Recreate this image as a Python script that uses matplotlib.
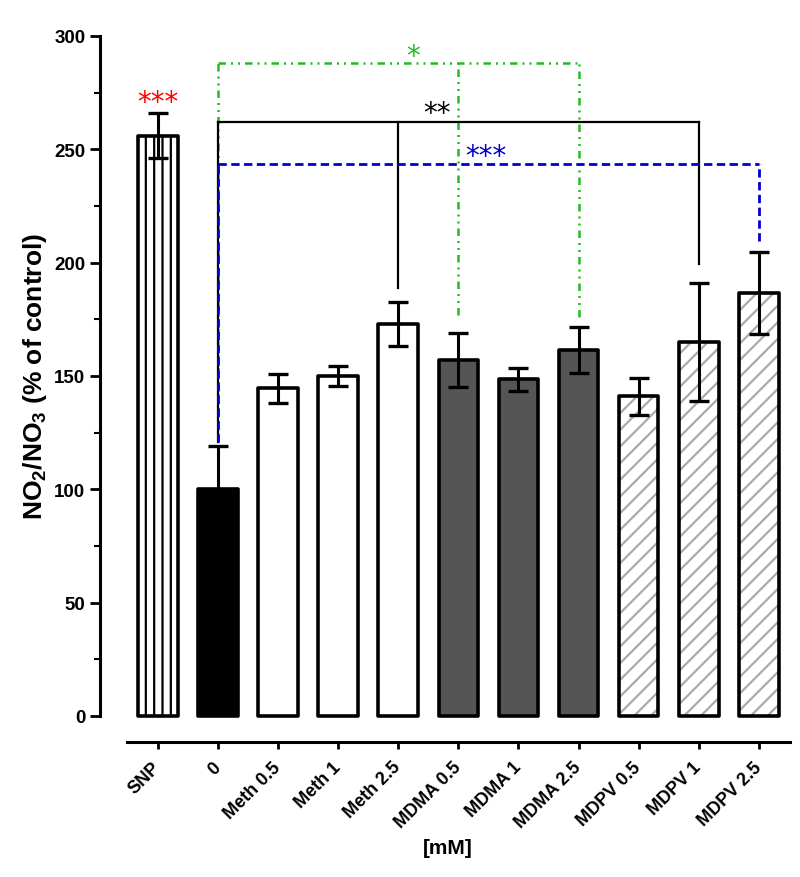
#!/usr/bin/env python3
import numpy as np
import matplotlib.pyplot as plt

plt.rcParams["font.family"] = ["Liberation Sans", "DejaVu Sans"]
plt.rcParams["mathtext.fontset"] = "custom"
plt.rcParams["mathtext.rm"] = "Liberation Sans"
plt.rcParams["mathtext.bf"] = "Liberation Sans:bold"
plt.rcParams["hatch.linewidth"] = 1.6

labels = ["SNP", "0", "Meth 0.5", "Meth 1", "Meth 2.5", "MDMA 0.5",
          "MDMA 1", "MDMA 2.5", "MDPV 0.5", "MDPV 1", "MDPV 2.5"]
means = [256, 100, 144.5, 150, 173, 157, 148.5, 161.5, 141, 165, 186.5]
errs = [10, 19, 6.5, 4.5, 9.7, 12, 5, 10, 8, 26, 18]
faces = ["white", "black", "white", "white", "white", "#555555", "#555555",
         "#555555", "white", "white", "white"]
hatches = ["||", None, None, None, None, None, None, None, "//", "//", "//"]
hatch_cols = ["black", "black", "black", "black", "black", "black", "black",
              "black", "#aaaaaa", "#aaaaaa", "#aaaaaa"]

# significance brackets from the "0" bar:
# (y of line, target bars, bottoms of drops, colour, style, width, stars, star x, star baseline)
brackets = [
    (288, [5, 7], [177, 176], "#22bb22", (0, (3, 2, 0.8, 2, 0.8, 2)), 1.8,
     "*", 4.24, 287.5),
    (262, [4, 9], [189, 199.5], "black", "-", 1.6, "**", 4.64, 262.4),
    (243.5, [10], [209.5], "#0000cc", (0, (3, 1.6)), 2.0, "***", 5.46, 243.4),
]
red_stars = ("***", 0, 267.2)
star_font = "DejaVu Sans"

fig = plt.figure(figsize=(8, 8.78), dpi=100)
ax = fig.add_axes([0.125, 0.1834, 0.8625, 0.7745])
x = np.arange(len(labels))

for i in range(len(labels)):
    ax.bar(x[i], means[i], width=0.66, color=faces[i], edgecolor=hatch_cols[i],
           hatch=hatches[i], linewidth=0, zorder=2)
    ax.bar(x[i], means[i], width=0.66, color="none", edgecolor="black",
           linewidth=2.6, zorder=3, clip_on=False, joinstyle="round")
ax.errorbar(x, means, yerr=errs, fmt="none", ecolor="black", elinewidth=2.2,
            capsize=7, capthick=2.4, zorder=4)

for ytop, targets, bottoms, col, ls, lw, txt, tx, ty in brackets:
    ax.plot([x[1], x[1]], [121, ytop], color=col, linestyle=ls, lw=lw, zorder=5)
    ax.plot([x[1], x[targets[-1]]], [ytop, ytop], color=col, linestyle=ls,
            lw=lw, zorder=5)
    for t, b in zip(targets, bottoms):
        ax.plot([x[t], x[t]], [b, ytop], color=col, linestyle=ls, lw=lw,
                zorder=5)
    ax.text(tx, ty, txt, color=col, fontsize=20, family=star_font,
            ha="center", va="baseline", zorder=6)

ax.text(x[red_stars[1]], red_stars[2], red_stars[0], color="red", fontsize=20,
        family=star_font, ha="center", va="baseline")

ax.set_xlim(-0.965, 10.52)
ax.set_ylim(0, 300)

ax.spines["top"].set_visible(False)
ax.spines["right"].set_visible(False)
ax.spines["left"].set_linewidth(2.2)
ax.spines["bottom"].set_linewidth(2.2)
ax.spines["bottom"].set_position(("outward", 18.7))
ax.spines["bottom"].set_bounds(-0.52, 10.52)

ax.set_yticks(np.arange(0, 301, 50))
ax.set_yticks(np.arange(25, 300, 50), minor=True)
ax.set_xticks(x)
ax.set_xticklabels(labels, rotation=45, ha="right", va="center",
                   rotation_mode="anchor", fontsize=13, fontweight="bold")
for lab in ax.get_yticklabels():
    lab.set_fontweight("bold")
    lab.set_fontsize(13.5)
ax.tick_params(axis="y", which="major", length=7, width=2, direction="out")
ax.tick_params(axis="y", which="minor", length=4, width=1.5, direction="out")
ax.tick_params(axis="x", length=5, width=2, direction="out", pad=11)

ax.set_ylabel(r"NO$_\mathbf{2}$/NO$_\mathbf{3}$ (% of control)", fontsize=19,
              fontweight="bold", va="center")
ax.yaxis.set_label_coords(-0.094, 0.5)
ax.set_xlabel("[mM]", fontsize=15, fontweight="bold", va="center")
ax.xaxis.set_label_coords(0.504, -0.193)

fig.savefig("out.png", dpi=100)
